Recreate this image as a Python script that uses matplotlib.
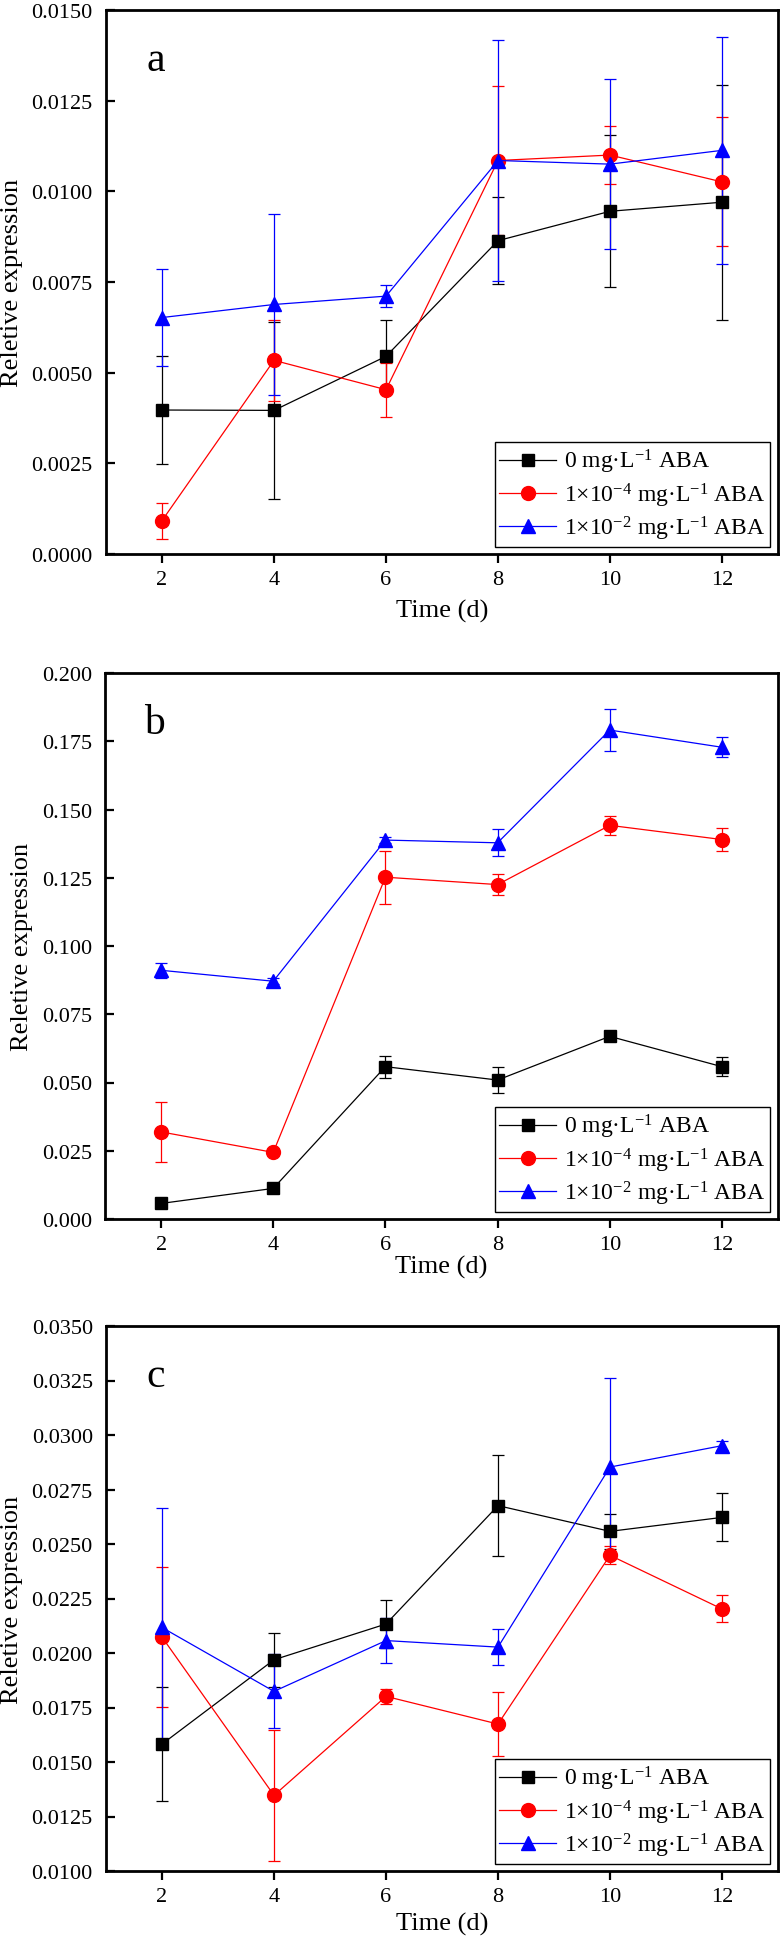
import matplotlib
matplotlib.use("Agg")
import matplotlib.pyplot as plt
from matplotlib.ticker import FormatStrFormatter, MultipleLocator

plt.rcParams['font.family'] = ['Liberation Serif', 'DejaVu Serif']
plt.rcParams['mathtext.fontset'] = 'custom'
plt.rcParams['mathtext.rm'] = 'Liberation Serif'
plt.rcParams['mathtext.it'] = 'Liberation Serif:italic'
plt.rcParams['mathtext.bf'] = 'Liberation Serif:bold'

days = [2, 4, 6, 8, 10, 12]
series_labels = ["0 mg·L$^{-1}$ ABA",
                 "1×10$^{-4}$ mg·L$^{-1}$ ABA",
                 "1×10$^{-2}$ mg·L$^{-1}$ ABA"]

# Panel a
a_ctrl = [0.00397, 0.00396, 0.00545, 0.00864, 0.00945, 0.00970]
a_ctrl_err = [0.00150, 0.00245, 0.00100, 0.00120, 0.00210, 0.00324]
a_low = [0.00092, 0.00534, 0.00453, 0.01085, 0.01100, 0.01026]
a_low_err = [0.00050, 0.00112, 0.00075, 0.00205, 0.00080, 0.00178]
a_high = [0.00652, 0.00688, 0.00711, 0.01085, 0.01075, 0.01113]
a_high_err = [0.00134, 0.00249, 0.00030, 0.00332, 0.00234, 0.00312]

# Panel b
b_ctrl = [0.0057, 0.0112, 0.0558, 0.0509, 0.0669, 0.0558]
b_ctrl_err = [0.0005, 0.0010, 0.0040, 0.0048, 0.0010, 0.0036]
b_low = [0.0319, 0.0244, 0.1252, 0.1225, 0.1442, 0.1390]
b_low_err = [0.0110, 0.0010, 0.0097, 0.0040, 0.0035, 0.0043]
b_high = [0.0911, 0.0871, 0.1388, 0.1378, 0.1791, 0.1728]
b_high_err = [0.0027, 0.0010, 0.0010, 0.0050, 0.0076, 0.0036]

# Panel c
c_ctrl = [0.01582, 0.01969, 0.02133, 0.02676, 0.02558, 0.02622]
c_ctrl_err = [0.00260, 0.00125, 0.00110, 0.00230, 0.00080, 0.00110]
c_low = [0.02073, 0.01347, 0.01801, 0.01674, 0.02448, 0.02202]
c_low_err = [0.00320, 0.00300, 0.00035, 0.00145, 0.00042, 0.00062]
c_high = [0.02117, 0.01824, 0.02057, 0.02027, 0.02853, 0.02951]
c_high_err = [0.00550, 0.00170, 0.00105, 0.00083, 0.00410, 0.00020]

panels = [
    dict(letter='a', data=[(a_ctrl, a_ctrl_err), (a_low, a_low_err), (a_high, a_high_err)],
         ylim=(0.0, 0.015), step=0.0025, fmt='%.4f', rect=(106/780, 1-555/1949, 672/780, 544/1949), xlabelpad=7),
    dict(letter='b', data=[(b_ctrl, b_ctrl_err), (b_low, b_low_err), (b_high, b_high_err)],
         ylim=(0.0, 0.2), step=0.025, fmt='%.3f', rect=(105/780, 1-1220/1949, 673/780, 546/1949), xlabelpad=1),
    dict(letter='c', data=[(c_ctrl, c_ctrl_err), (c_low, c_low_err), (c_high, c_high_err)],
         ylim=(0.01, 0.035), step=0.0025, fmt='%.4f', rect=(106/780, 1-1872/1949, 672/780, 545/1949), xlabelpad=4),
]

colors = ['black', 'red', 'blue']
markers = ['s', 'o', '^']
msizes = [8.5, 10, 10]

fig = plt.figure(figsize=(7.8, 19.49), dpi=100)

for p in panels:
    ax = fig.add_axes(p['rect'])
    for (vals, errs), c, m, ms, lab in zip(p['data'], colors, markers, msizes, series_labels):
        ax.errorbar(days, vals, yerr=errs, fmt='none', ecolor=c, elinewidth=0.9,
                    capsize=4.3, capthick=0.9, zorder=2)
        ax.plot(days, vals, color=c, marker=m, markersize=ms, linewidth=0.9,
                label=lab, zorder=3)
    ax.set_xlim(1, 13)
    ax.set_ylim(*p['ylim'])
    ax.xaxis.set_major_locator(MultipleLocator(2))
    ax.yaxis.set_major_locator(MultipleLocator(p['step']))
    ax.yaxis.set_major_formatter(FormatStrFormatter(p['fmt']))
    ax.tick_params(axis='both', length=6.5, width=1.6, labelsize=16)
    ax.tick_params(axis='y', direction='in', pad=9.5)
    ax.tick_params(axis='x', direction='out', pad=5)
    for s in ax.spines.values():
        s.set_linewidth(2.0)
    ax.set_xlabel('Time (d)', fontsize=19, labelpad=p['xlabelpad'])
    ax.set_ylabel('Reletive expression', fontsize=19, labelpad=6.5)
    ax.text(0.074, 0.908, p['letter'], transform=ax.transAxes, fontsize=30,
            ha='center', va='center')
    leg = ax.legend(loc='lower right', bbox_to_anchor=(0.988, 0.013), borderaxespad=0,
                    fontsize=17, frameon=True, fancybox=False, framealpha=1,
                    edgecolor='black', handlelength=2.4, handletextpad=0.33,
                    borderpad=0.2, labelspacing=0.22)
    leg.get_frame().set_linewidth(1.0)

fig.savefig('out.png', dpi=100)
